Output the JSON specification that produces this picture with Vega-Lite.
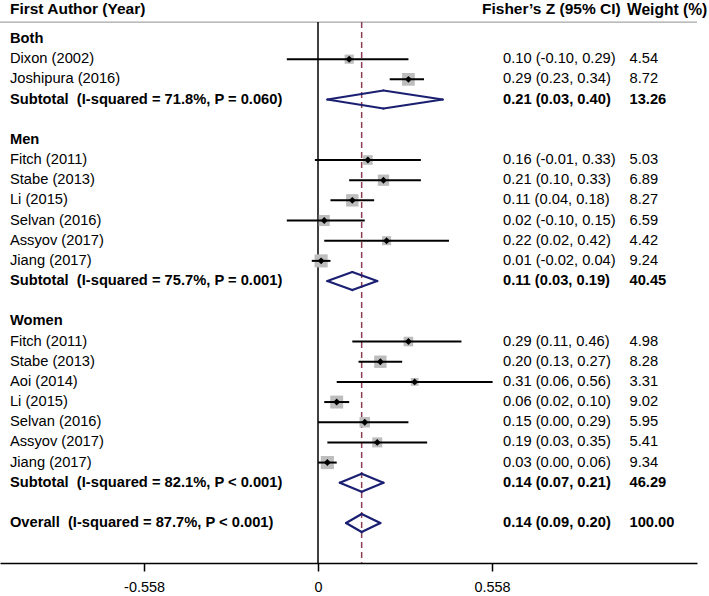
{
  "$schema": "https://vega.github.io/schema/vega-lite/v6.json",
  "width": 697,
  "height": 563,
  "autosize": {"type": "none"},
  "padding": {"left": 0, "top": 0, "right": 12, "bottom": 33},
  "background": "white",
  "config": {
    "view": {"stroke": null},
    "text": {"font": "Liberation Sans", "fontSize": 14.7, "color": "#000000"},
    "axis": {"labelFont": "Liberation Sans"}
  },
  "datasets": {
    "studies": [
      {"row": 1, "label": "Dixon (2002)", "est": 0.10, "lo": -0.10, "hi": 0.29, "weight": 4.54, "ci": "0.10 (-0.10, 0.29)", "w": "4.54"},
      {"row": 2, "label": "Joshipura (2016)", "est": 0.29, "lo": 0.23, "hi": 0.34, "weight": 8.72, "ci": "0.29 (0.23, 0.34)", "w": "8.72"},
      {"row": 6, "label": "Fitch (2011)", "est": 0.16, "lo": -0.01, "hi": 0.33, "weight": 5.03, "ci": "0.16 (-0.01, 0.33)", "w": "5.03"},
      {"row": 7, "label": "Stabe (2013)", "est": 0.21, "lo": 0.10, "hi": 0.33, "weight": 6.89, "ci": "0.21 (0.10, 0.33)", "w": "6.89"},
      {"row": 8, "label": "Li (2015)", "est": 0.11, "lo": 0.04, "hi": 0.18, "weight": 8.27, "ci": "0.11 (0.04, 0.18)", "w": "8.27"},
      {"row": 9, "label": "Selvan (2016)", "est": 0.02, "lo": -0.10, "hi": 0.15, "weight": 6.59, "ci": "0.02 (-0.10, 0.15)", "w": "6.59"},
      {"row": 10, "label": "Assyov (2017)", "est": 0.22, "lo": 0.02, "hi": 0.42, "weight": 4.42, "ci": "0.22 (0.02, 0.42)", "w": "4.42"},
      {"row": 11, "label": "Jiang (2017)", "est": 0.01, "lo": -0.02, "hi": 0.04, "weight": 9.24, "ci": "0.01 (-0.02, 0.04)", "w": "9.24"},
      {"row": 15, "label": "Fitch (2011)", "est": 0.29, "lo": 0.11, "hi": 0.46, "weight": 4.98, "ci": "0.29 (0.11, 0.46)", "w": "4.98"},
      {"row": 16, "label": "Stabe (2013)", "est": 0.20, "lo": 0.13, "hi": 0.27, "weight": 8.28, "ci": "0.20 (0.13, 0.27)", "w": "8.28"},
      {"row": 17, "label": "Aoi (2014)", "est": 0.31, "lo": 0.06, "hi": 0.56, "weight": 3.31, "ci": "0.31 (0.06, 0.56)", "w": "3.31"},
      {"row": 18, "label": "Li (2015)", "est": 0.06, "lo": 0.02, "hi": 0.10, "weight": 9.02, "ci": "0.06 (0.02, 0.10)", "w": "9.02"},
      {"row": 19, "label": "Selvan (2016)", "est": 0.15, "lo": 0.00, "hi": 0.29, "weight": 5.95, "ci": "0.15 (0.00, 0.29)", "w": "5.95"},
      {"row": 20, "label": "Assyov (2017)", "est": 0.19, "lo": 0.03, "hi": 0.35, "weight": 5.41, "ci": "0.19 (0.03, 0.35)", "w": "5.41"},
      {"row": 21, "label": "Jiang (2017)", "est": 0.03, "lo": 0.00, "hi": 0.06, "weight": 9.34, "ci": "0.03 (0.00, 0.06)", "w": "9.34"}
    ],
    "pooled": [
      {"row": 3, "group": "Both", "label": "Subtotal\u00a0 (I-squared = 71.8%, P = 0.060)", "est": 0.21, "lo": 0.03, "hi": 0.40, "ci": "0.21 (0.03, 0.40)", "w": "13.26"},
      {"row": 12, "group": "Men", "label": "Subtotal\u00a0 (I-squared = 75.7%, P = 0.001)", "est": 0.11, "lo": 0.03, "hi": 0.19, "ci": "0.11 (0.03, 0.19)", "w": "40.45"},
      {"row": 22, "group": "Women", "label": "Subtotal\u00a0 (I-squared = 82.1%, P < 0.001)", "est": 0.14, "lo": 0.07, "hi": 0.21, "ci": "0.14 (0.07, 0.21)", "w": "46.29"},
      {"row": 24, "group": "Overall", "label": "Overall\u00a0 (I-squared = 87.7%, P < 0.001)", "est": 0.14, "lo": 0.09, "hi": 0.20, "ci": "0.14 (0.09, 0.20)", "w": "100.00"}
    ],
    "groups": [
      {"row": 0, "label": "Both"},
      {"row": 5, "label": "Men"},
      {"row": 14, "label": "Women"}
    ]
  },
  "encoding": {
    "x": {"type": "quantitative", "scale": {"domain": [-1.01988, 1.21552], "nice": false, "zero": false}},
    "y": {"type": "quantitative", "scale": {"domain": [-1.934, 25.98], "reverse": true, "nice": false, "zero": false}, "axis": null}
  },
  "layer": [
    {
      "data": {"values": [{"a": 1}]},
      "mark": {"type": "rule", "color": "#a6a6a6", "strokeWidth": 1.2},
      "encoding": {
        "x": {"datum": -1.01988, "type": "quantitative"},
        "x2": {"datum": 1.21552},
        "y": {"datum": -0.84, "type": "quantitative"}
      }
    },
    {
      "data": {"values": [{"a": 1}]},
      "mark": {"type": "rule", "color": "#000000", "strokeWidth": 1.5},
      "encoding": {
        "x": {"datum": 0, "type": "quantitative", "axis": {"orient": "bottom", "values": [-0.558, 0, 0.558], "title": null, "grid": false, "domainColor": "#000000", "domainWidth": 1.5, "tickColor": "#000000", "tickWidth": 1.5, "tickSize": 8, "labelFontSize": 14.4, "labelColor": "#000000", "labelPadding": 9, "labelExpr": "datum.value < 0 ? '-' + format(-datum.value, '.3f') : (datum.value == 0 ? '0' : format(datum.value, '.3f'))"}},
        "y": {"datum": -0.84, "type": "quantitative"},
        "y2": {"datum": 25.98}
      }
    },
    {
      "data": {"name": "pooled"},
      "transform": [{"filter": "datum.group == 'Overall'"}],
      "mark": {"type": "rule", "color": "#8b3e50", "strokeWidth": 1.5, "strokeDash": [6, 4]},
      "encoding": {
        "x": {"field": "est", "type": "quantitative"},
        "y": {"datum": -0.84, "type": "quantitative"},
        "y2": {"datum": 25.98}
      }
    },
    {
      "data": {"name": "studies"},
      "mark": {"type": "point", "shape": "square", "filled": true, "color": "#bdbdbd", "opacity": 1, "strokeWidth": 0},
      "encoding": {
        "x": {"field": "est", "type": "quantitative"},
        "y": {"field": "row", "type": "quantitative"},
        "size": {"field": "weight", "type": "quantitative", "scale": {"type": "linear", "domain": [0, 10], "range": [0, 185]}, "legend": null}
      }
    },
    {
      "data": {"name": "studies"},
      "mark": {"type": "rule", "color": "#000000", "strokeWidth": 2},
      "encoding": {
        "x": {"field": "lo", "type": "quantitative"},
        "x2": {"field": "hi"},
        "y": {"field": "row", "type": "quantitative"}
      }
    },
    {
      "data": {"name": "studies"},
      "mark": {"type": "point", "shape": "diamond", "filled": true, "color": "#000000", "opacity": 1, "size": 48, "strokeWidth": 0},
      "encoding": {
        "x": {"field": "est", "type": "quantitative"},
        "y": {"field": "row", "type": "quantitative"}
      }
    },
    {
      "data": {"name": "pooled"},
      "mark": {"type": "rule", "color": "#1a1f71", "strokeWidth": 2.2, "strokeCap": "round", "y2Offset": -9},
      "encoding": {
        "x": {"field": "lo", "type": "quantitative"},
        "x2": {"field": "est"},
        "y": {"field": "row", "type": "quantitative"},
        "y2": {"field": "row"}
      }
    },
    {
      "data": {"name": "pooled"},
      "mark": {"type": "rule", "color": "#1a1f71", "strokeWidth": 2.2, "strokeCap": "round", "y2Offset": 9},
      "encoding": {
        "x": {"field": "lo", "type": "quantitative"},
        "x2": {"field": "est"},
        "y": {"field": "row", "type": "quantitative"},
        "y2": {"field": "row"}
      }
    },
    {
      "data": {"name": "pooled"},
      "mark": {"type": "rule", "color": "#1a1f71", "strokeWidth": 2.2, "strokeCap": "round", "y2Offset": -9},
      "encoding": {
        "x": {"field": "hi", "type": "quantitative"},
        "x2": {"field": "est"},
        "y": {"field": "row", "type": "quantitative"},
        "y2": {"field": "row"}
      }
    },
    {
      "data": {"name": "pooled"},
      "mark": {"type": "rule", "color": "#1a1f71", "strokeWidth": 2.2, "strokeCap": "round", "y2Offset": 9},
      "encoding": {
        "x": {"field": "hi", "type": "quantitative"},
        "x2": {"field": "est"},
        "y": {"field": "row", "type": "quantitative"},
        "y2": {"field": "row"}
      }
    },
    {
      "data": {"values": [{"t": "First Author (Year)"}]},
      "mark": {"type": "text", "align": "left", "baseline": "middle", "fontWeight": "bold", "fontSize": 15.5},
      "encoding": {"x": {"datum": -0.988, "type": "quantitative"}, "y": {"datum": -1.5, "type": "quantitative"}, "text": {"field": "t"}}
    },
    {
      "data": {"values": [{"t": "Fisher\u2019s Z (95% CI)"}]},
      "mark": {"type": "text", "align": "left", "baseline": "middle", "fontWeight": "bold", "fontSize": 15.5},
      "encoding": {"x": {"datum": 0.526, "type": "quantitative"}, "y": {"datum": -1.5, "type": "quantitative"}, "text": {"field": "t"}}
    },
    {
      "data": {"values": [{"t": "Weight (%)"}]},
      "mark": {"type": "text", "align": "left", "baseline": "middle", "fontWeight": "bold", "fontSize": 15.6},
      "encoding": {"x": {"datum": 0.991, "type": "quantitative"}, "y": {"datum": -1.45, "type": "quantitative"}, "text": {"field": "t"}}
    },
    {
      "data": {"name": "groups"},
      "mark": {"type": "text", "align": "left", "baseline": "middle", "fontWeight": "bold"},
      "encoding": {"x": {"datum": -0.988, "type": "quantitative"}, "y": {"field": "row", "type": "quantitative"}, "text": {"field": "label"}}
    },
    {
      "data": {"name": "studies"},
      "mark": {"type": "text", "align": "left", "baseline": "middle"},
      "encoding": {"x": {"datum": -0.988, "type": "quantitative"}, "y": {"field": "row", "type": "quantitative"}, "text": {"field": "label"}}
    },
    {
      "data": {"name": "studies"},
      "mark": {"type": "text", "align": "left", "baseline": "middle"},
      "encoding": {"x": {"datum": 0.5933, "type": "quantitative"}, "y": {"field": "row", "type": "quantitative"}, "text": {"field": "ci"}}
    },
    {
      "data": {"name": "studies"},
      "mark": {"type": "text", "align": "left", "baseline": "middle"},
      "encoding": {"x": {"datum": 0.999, "type": "quantitative"}, "y": {"field": "row", "type": "quantitative"}, "text": {"field": "w"}}
    },
    {
      "data": {"name": "pooled"},
      "mark": {"type": "text", "align": "left", "baseline": "middle", "fontWeight": "bold"},
      "encoding": {"x": {"datum": -0.988, "type": "quantitative"}, "y": {"field": "row", "type": "quantitative"}, "text": {"field": "label"}}
    },
    {
      "data": {"name": "pooled"},
      "mark": {"type": "text", "align": "left", "baseline": "middle", "fontWeight": "bold"},
      "encoding": {"x": {"datum": 0.5933, "type": "quantitative"}, "y": {"field": "row", "type": "quantitative"}, "text": {"field": "ci"}}
    },
    {
      "data": {"name": "pooled"},
      "mark": {"type": "text", "align": "left", "baseline": "middle", "fontWeight": "bold"},
      "encoding": {"x": {"datum": 0.999, "type": "quantitative"}, "y": {"field": "row", "type": "quantitative"}, "text": {"field": "w"}}
    }
  ]
}
